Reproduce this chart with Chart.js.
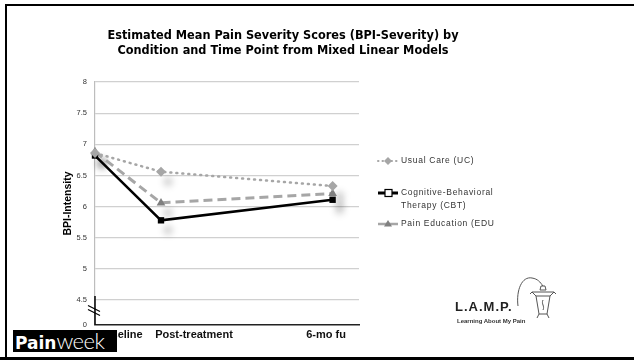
<!DOCTYPE html>
<html>
<head>
<meta charset="utf-8">
<script src="https://cdn.jsdelivr.net/npm/chart.js@4.4.1/dist/chart.umd.min.js"></script>
<style>
  html, body { margin: 0; padding: 0; background: #fff; }
  #slide { position: relative; width: 634px; height: 360px; overflow: hidden; background: #fff; }
  #chart { position: absolute; left: 0; top: 0; }
  .frame-left { position: absolute; left: 5px; top: 4px; width: 2px; height: 356px; background: #000; }
  .frame-top { position: absolute; left: 5px; top: 4px; width: 629px; height: 2px; background: #000; }
  .frame-bottom { position: absolute; left: 0; top: 357px; width: 634px; height: 3px; background: #000; }
  #title {
    position: absolute; left: 0; top: 28px; width: 566px; text-align: center;
    font-family: "DejaVu Sans Condensed", "DejaVu Sans"; font-stretch: condensed;
    font-weight: bold; font-size: 12.6px; line-height: 14.5px; color: #000;
  }
  #painweek {
    position: absolute; left: 13px; top: 330px; width: 104px; height: 22px; background: #000;
    font-family: "Liberation Sans"; line-height: 22px; white-space: nowrap; overflow: hidden;
  }
  #painweek .pain { font-family: "DejaVu Sans"; font-weight: bold; font-size: 17px; color: #fff; padding-left: 2px; }
  #painweek .week { font-family: "Lato", "Liberation Sans"; font-weight: 300; font-size: 22px; color: #fff; letter-spacing: -0.5px; }
  #lamp { position: absolute; left: 455px; top: 299px; font-family: "Liberation Sans"; font-weight: bold;
    font-size: 13px; letter-spacing: 1px; color: #222; }
  #lampsub { position: absolute; left: 457px; top: 318px; font-family: "Liberation Sans"; font-weight: bold;
    font-size: 6px; color: #333; }
  #lantern { position: absolute; left: 510px; top: 270px; }
</style>
</head>
<body>
<div id="slide">
  <canvas id="chart" width="634" height="360"></canvas>
  <div class="frame-left"></div>
  <div class="frame-top"></div>
  <div class="frame-bottom"></div>
  <div id="title">Estimated Mean Pain Severity Scores (BPI-Severity) by<br>Condition and Time Point from Mixed Linear Models</div>
  <div id="painweek"><span class="pain">Pain</span><span class="week">week</span></div>
  <div id="lamp">L.A.M.P.</div>
  <div id="lampsub">Learning About My Pain</div>
  <svg id="lantern" width="52" height="54" viewBox="0 0 52 54" fill="none" stroke="#555" stroke-width="1">
    <path d="M8 36 C6 20 12 6 22 8 C28 9 30 12 33 16"/>
    <path d="M31 16 L35 16 L36 20 L30 20 Z"/>
    <path d="M22 22 L44 22 L40 26 L26 26 Z"/>
    <path d="M26 26 L29 44 L37 44 L40 26"/>
    <path d="M29 44 L27 48 M37 44 L39 48 M20 24 L22 22 M46 24 L44 22"/>
    <path d="M33 30 C31 34 35 36 33 40"/>
  </svg>
</div>

<script>
// Time points and where they fall on the time axis (weeks from baseline)
const timePoints = ['Baseline', 'Post-treatment', '6-mo fu'];
const timeWeeks = [0, 10, 36];
const timeLabelWeeks = [3.8, 15, 35];

// Estimated mean BPI scores per condition
const ucScores = [6.86, 6.56, 6.33];
const cbtScores = [6.82, 5.78, 6.11];
const eduScores = [6.88, 6.06, 6.21];

const seriesNames = ['Usual Care (UC)', 'Cognitive-Behavioral Therapy (CBT)', 'Pain Education (EDU'];

// Y axis: broken axis, the bottom tick stands for zero
const axisBreakValue = 4.1;
const yTickValues = [4.1, 4.5, 5, 5.5, 6, 6.5, 7, 7.5, 8];
const yTickLabels = ['0', '4.5', '5', '5.5', '6', '6.5', '7', '7.5', '8'];

const GREY = '#a6a6a6';

function toPoints(values) {
  return timeWeeks.map((w, i) => ({ x: w, y: values[i] }));
}

// soft drop shadow under each marker
const markerShadow = {
  id: 'markerShadow',
  beforeDatasetsDraw(chart) {
    const ctx = chart.ctx;
    ctx.save();
    ctx.filter = 'blur(3px)';
    ctx.fillStyle = 'rgba(0,0,0,0.16)';
    chart.data.datasets.forEach((d, i) => {
      chart.getDatasetMeta(i).data.forEach(p => {
        ctx.beginPath();
        ctx.arc(p.x + 7, p.y + 10, 5, 0, Math.PI * 2);
        ctx.fill();
      });
    });
    ctx.restore();
  }
};

// axis break marks on the value axis
const axisBreak = {
  id: 'axisBreak',
  afterDatasetsDraw(chart) {
    const ctx = chart.ctx;
    const y = chart.scales.y;
    const x0 = chart.chartArea.left;
    const yBottom = y.getPixelForValue(axisBreakValue);
    const yTop = y.getPixelForValue(4.5) - 4;
    ctx.save();
    ctx.strokeStyle = '#000';
    ctx.lineWidth = 1.5;
    ctx.beginPath();
    ctx.moveTo(x0, yTop);
    ctx.lineTo(x0, yBottom);
    ctx.stroke();
    const ym = (yTop + yBottom) / 2 - 1;
    ctx.lineWidth = 1.2;
    ctx.beginPath();
    ctx.moveTo(x0 - 7, ym - 4); ctx.lineTo(x0 + 5, ym + 2);
    ctx.moveTo(x0 - 7, ym);     ctx.lineTo(x0 + 5, ym + 6);
    ctx.stroke();
    ctx.restore();
  }
};

// legend to the right of the plot
const sideLegend = {
  id: 'sideLegend',
  afterDraw(chart) {
    const ctx = chart.ctx;
    const x0 = chart.chartArea.right + 19;
    const xt = x0 + 23;
    const rows = [161, 193, 224];
    ctx.save();
    ctx.font = '8.5px "Liberation Sans"';
    ctx.letterSpacing = '0.7px';
    ctx.fillStyle = '#333';
    ctx.textBaseline = 'middle';

    // UC
    ctx.strokeStyle = GREY; ctx.lineWidth = 2; ctx.lineCap = 'round';
    ctx.setLineDash([0.5, 4]);
    ctx.beginPath(); ctx.moveTo(x0, rows[0]); ctx.lineTo(x0 + 20, rows[0]); ctx.stroke();
    ctx.setLineDash([]);
    ctx.fillStyle = GREY;
    ctx.beginPath();
    ctx.moveTo(x0 + 10, rows[0] - 4); ctx.lineTo(x0 + 14, rows[0]);
    ctx.lineTo(x0 + 10, rows[0] + 4); ctx.lineTo(x0 + 6, rows[0]); ctx.closePath(); ctx.fill();
    ctx.fillStyle = '#333';
    ctx.fillText('Usual Care (UC)', xt, rows[0]);

    // CBT
    ctx.strokeStyle = '#000'; ctx.lineWidth = 3; ctx.lineCap = 'butt';
    ctx.beginPath(); ctx.moveTo(x0, rows[1]); ctx.lineTo(x0 + 20, rows[1]); ctx.stroke();
    ctx.fillStyle = '#fff'; ctx.lineWidth = 1.2;
    ctx.fillRect(x0 + 7, rows[1] - 3.5, 7, 7);
    ctx.strokeRect(x0 + 7, rows[1] - 3.5, 7, 7);
    ctx.fillStyle = '#333';
    ctx.fillText('Cognitive-Behavioral', xt, rows[1]);
    ctx.fillText('Therapy (CBT)', xt, rows[1] + 13);

    // EDU
    ctx.strokeStyle = GREY; ctx.lineWidth = 2.5;
    ctx.beginPath(); ctx.moveTo(x0, rows[2]); ctx.lineTo(x0 + 20, rows[2]); ctx.stroke();
    ctx.fillStyle = '#808080';
    ctx.beginPath();
    ctx.moveTo(x0 + 10, rows[2] - 4); ctx.lineTo(x0 + 14, rows[2] + 2.5);
    ctx.lineTo(x0 + 6, rows[2] + 2.5); ctx.closePath(); ctx.fill();
    ctx.fillStyle = '#333';
    ctx.fillText('Pain Education (EDU', xt, rows[2]);
    ctx.restore();
  }
};

new Chart(document.getElementById('chart'), {
  type: 'line',
  data: {
    datasets: [
      {
        label: seriesNames[0],
        data: toPoints(ucScores),
        borderColor: GREY,
        borderWidth: 2.5,
        borderDash: [1, 5],
        borderCapStyle: 'round',
        pointStyle: 'rectRot',
        pointRadius: 5,
        pointBackgroundColor: GREY,
        pointBorderColor: GREY,
        pointBorderWidth: 0
      },
      {
        label: seriesNames[1],
        data: toPoints(cbtScores),
        borderColor: '#000',
        borderWidth: 2.5,
        pointStyle: 'rect',
        pointRadius: 4.5,
        pointBackgroundColor: '#000',
        pointBorderColor: '#000',
        pointBorderWidth: 0
      },
      {
        label: seriesNames[2],
        data: toPoints(eduScores),
        borderColor: GREY,
        borderWidth: 3,
        borderDash: [9, 5],
        pointStyle: 'triangle',
        pointRadius: 5,
        pointBackgroundColor: '#7f7f7f',
        pointBorderColor: '#7f7f7f',
        pointBorderWidth: 0
      }
    ]
  },
  options: {
    responsive: false,
    animation: false,
    devicePixelRatio: 1,
    clip: false,
    layout: { padding: { left: 58, right: 275, top: 82, bottom: 0 } },
    plugins: {
      legend: { display: false },
      tooltip: { enabled: false }
    },
    scales: {
      x: {
        type: 'linear',
        min: 0,
        max: 40,
        afterFit(s) { s.height = 35; },
        afterBuildTicks(s) { s.ticks = timeLabelWeeks.map(v => ({ value: v })); },
        grid: { display: false, drawTicks: false },
        border: { display: true, color: '#222', width: 1.5 },
        ticks: {
          autoSkip: false,
          maxRotation: 0,
          padding: 3,
          color: '#111',
          font: { family: 'Liberation Sans', size: 11, weight: 'bold' },
          callback: (v, i) => timePoints[i]
        }
      },
      y: {
        min: axisBreakValue,
        max: 8,
        afterFit(s) { s.width = 37; },
        afterBuildTicks(s) { s.ticks = yTickValues.map(v => ({ value: v })); },
        grid: {
          drawTicks: false,
          color: ctx => (ctx.tick && ctx.tick.value === axisBreakValue) ? 'rgba(0,0,0,0)' : '#d0d0d0',
          lineWidth: 1.2
        },
        border: { color: '#bdbdbd', width: 1.2 },
        ticks: {
          padding: 8,
          color: '#333',
          font: { family: 'Liberation Sans', size: 7.5 },
          callback: (v, i) => yTickLabels[i]
        },
        title: {
          display: true,
          text: 'BPI-Intensity',
          color: '#000',
          font: { family: 'Liberation Sans', size: 10.5, weight: 'bold' }
        }
      }
    }
  },
  plugins: [markerShadow, axisBreak, sideLegend]
});
</script>
</body>
</html>
